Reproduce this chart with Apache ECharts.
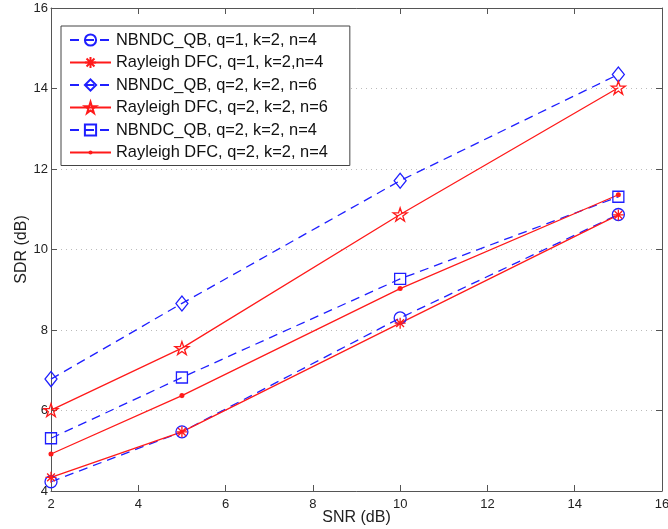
<!DOCTYPE html>
<html><head><meta charset="utf-8">
<script src="https://cdn.jsdelivr.net/npm/echarts@6/dist/echarts.min.js"></script>
<style>html,body{margin:0;padding:0;background:#fff}#c{width:668px;height:529px}</style>
</head><body><div id="c"></div>
<script>
const snr = [2, 5, 10, 15];
const names = [
  'NBNDC_QB, q=1, k=2, n=4',
  'Rayleigh DFC, q=1, k=2,n=4',
  'NBNDC_QB, q=2, k=2, n=6',
  'Rayleigh DFC, q=2, k=2, n=6',
  'NBNDC_QB, q=2, k=2, n=4',
  'Rayleigh DFC, q=2, k=2, n=4'
];
const qb_q1_n4 = [4.23, 5.47, 8.30, 10.87];
const dfc_q1_n4 = [4.34, 5.47, 8.17, 10.86];
const qb_q2_n6 = [6.78, 8.66, 11.71, 14.35];
const dfc_q2_n6 = [6.01, 7.55, 10.87, 14.02];
const qb_q2_n4 = [5.31, 6.82, 9.27, 11.31];
const dfc_q2_n4 = [4.92, 6.37, 9.03, 11.36];
const xTicks = [2, 4, 6, 8, 10, 12, 14, 16];
const yTicks = [4, 6, 8, 10, 12, 14, 16];

const BLUE = '#1f1fff', RED = '#ff1a1a';
const FONT = 'Liberation Sans, Arial, Helvetica, sans-serif';
const STAR = 'path://M0 -10 L2.25 -3.09 L9.51 -3.09 L3.63 1.18 L5.88 8.09 L0 3.82 L-5.88 8.09 L-3.63 1.18 L-9.51 -3.09 L-2.25 -3.09 Z';
const AST = 'path://M0 -10 L0 10 M-10 0 L10 0 M-7.07 -7.07 L7.07 7.07 M-7.07 7.07 L7.07 -7.07';
const DOT = 'path://M-5 -5 L-5 -5 M5 5 L5 5 M0 -1.8 A1.8 1.8 0 1 1 0 1.8 A1.8 1.8 0 1 1 0 -1.8 Z';

function pairs(vals){ return snr.map((x,i)=>[x, vals[i]]); }
function mk(name, vals, color, dashed, symbol, size, filled){
  return {
    name, type:'line', data: pairs(vals), xAxisIndex:0, yAxisIndex:0,
    symbol, symbolSize:size, showAllSymbol:true,
    lineStyle:{color, width:1.3, type: dashed ? [9,6] : 'solid'},
    itemStyle:{color: filled ? color : 'rgba(255,255,255,0)', borderColor: color, borderWidth: filled ? 0 : 1.3},
    emphasis:{disabled:true}, animation:false, z: 3
  };
}

const axisCommon = {
  axisLine:{show:true, lineStyle:{color:'#555', width:1}},
  axisTick:{show:true, inside:true, length:6, lineStyle:{color:'#555'}},
};

const chart = echarts.init(document.getElementById('c'), null, {renderer:'canvas'});
chart.setOption({
  backgroundColor:'#fff',
  animation:false,
  grid:{left:51, right:6, top:8, bottom:38, containLabel:false, outerBoundsMode:'none'},
  xAxis:[
    Object.assign({type:'value', min:xTicks[0], max:xTicks[xTicks.length-1], interval:2, position:'bottom',
      name:'SNR (dB)', nameLocation:'middle', nameGap:19, nameMoveOverlap:false,
      nameTextStyle:{fontFamily:FONT, fontSize:16, color:'#222'},
      axisLabel:{fontFamily:FONT, fontSize:13, color:'#222', margin:7},
      splitLine:{show:false}}, axisCommon),
    Object.assign({type:'value', min:xTicks[0], max:xTicks[xTicks.length-1], interval:2, position:'top',
      axisLabel:{show:false}, splitLine:{show:false}}, axisCommon)
  ],
  yAxis:[
    Object.assign({type:'value', min:yTicks[0], max:yTicks[yTicks.length-1], interval:2, position:'left',
      name:'SDR (dB)', nameLocation:'middle', nameGap:21, nameRotate:90, nameMoveOverlap:false,
      nameTextStyle:{fontFamily:FONT, fontSize:16, color:'#222'},
      axisLabel:{fontFamily:FONT, fontSize:13, color:'#222', margin:3},
      splitLine:{show:true, lineStyle:{color:'#bbb', type:[1,4], width:1}}}, axisCommon),
    Object.assign({type:'value', min:yTicks[0], max:yTicks[yTicks.length-1], interval:2, position:'right',
      axisLabel:{show:false}, splitLine:{show:false}}, axisCommon)
  ],
  legend:{
    show:true, orient:'vertical', left:61, top:26,
    data: names,
    backgroundColor:'#fff', borderColor:'#444', borderWidth:1,
    padding:[6,22,5,8], itemGap:6.5, itemWidth:41, itemHeight:14,
    textStyle:{fontFamily:FONT, fontSize:16.4, color:'#111'},
    selectedMode:false
  },
  series:[
    mk(names[0], qb_q1_n4, BLUE, true, 'circle', 12, false),
    mk(names[1], dfc_q1_n4, RED, false, AST, 11, false),
    mk(names[2], qb_q2_n6, BLUE, true, 'diamond', [12,15], false),
    mk(names[3], dfc_q2_n6, RED, false, STAR, [14,13], false),
    mk(names[4], qb_q2_n4, BLUE, true, 'rect', 11, false),
    mk(names[5], dfc_q2_n4, RED, false, DOT, 14, true)
  ]
});
</script></body></html>
